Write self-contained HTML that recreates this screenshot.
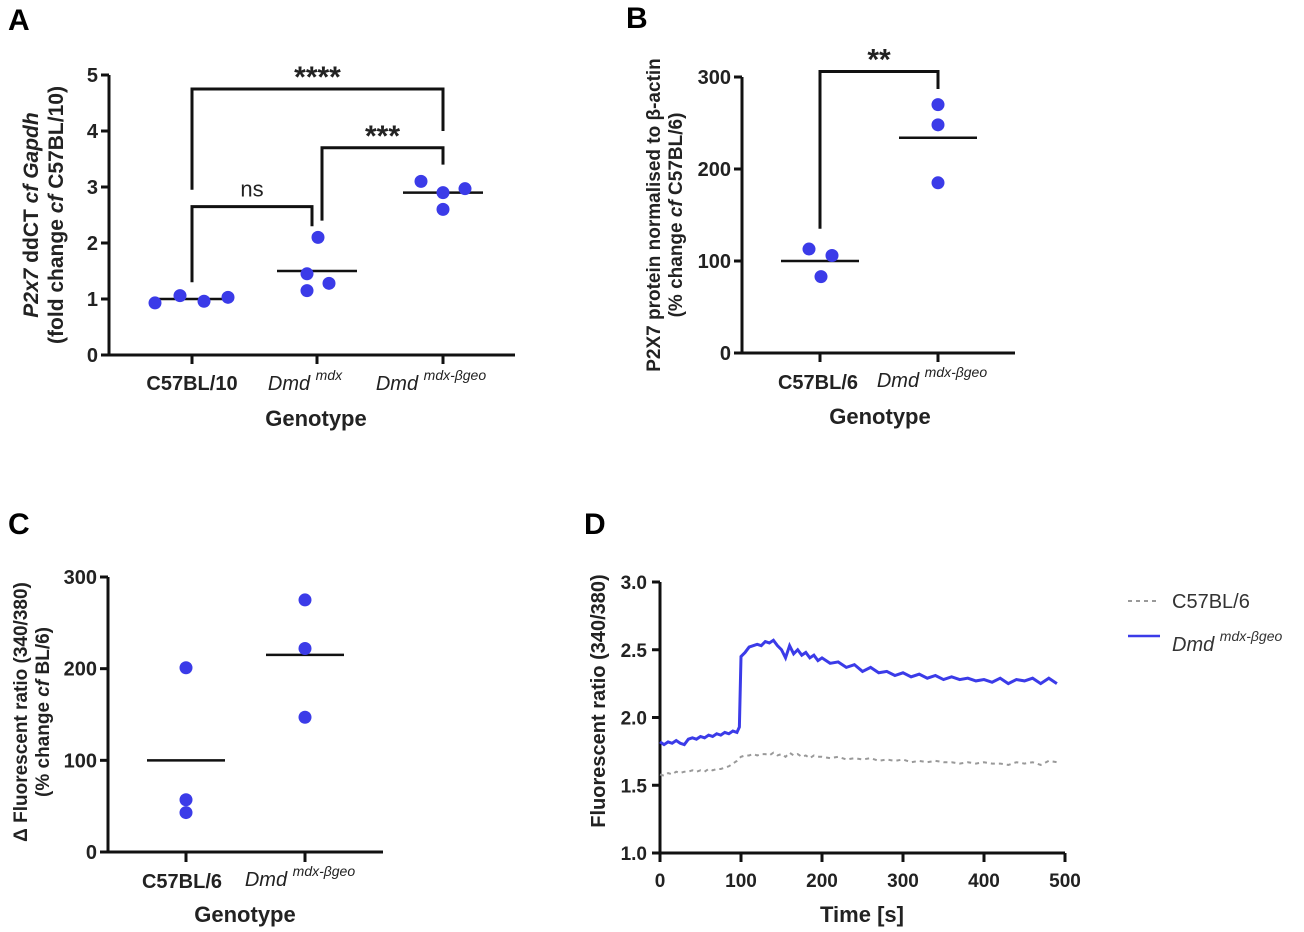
<!DOCTYPE html>
<html><head><meta charset="utf-8"><style>
html,body{margin:0;padding:0;background:#fff;width:1304px;height:932px;overflow:hidden}
svg{display:block;font-family:"Liberation Sans",Arial,sans-serif}
</style></head><body>
<svg id="fig" width="1304" height="932" viewBox="0 0 1304 932">
<g font-weight="bold" font-size="30">
<text x="8" y="30">A</text>
<text x="626" y="28">B</text>
<text x="8" y="534">C</text>
<text x="584" y="534">D</text>
</g>
</svg>
<script>
// Panel A data
const aCats=["C57BL/10","Dmd","Dmd"];
const aSups=["","mdx","mdx-βgeo"];
const aVals=[[0.93,1.06,0.96,1.03],[1.15,1.45,2.1,1.28],[3.1,2.6,2.9,2.97]];
const aMeans=[1.0,1.5,2.9];
const aTicks=[0,1,2,3,4,5];
// Panel B data
const bCats=["C57BL/6","Dmd"];
const bVals=[[113,83,106],[270,248,185]];
const bMeans=[100,234];
const bTicks=[0,100,200,300];
// Panel C data
const cCats=["C57BL/6","Dmd"];
const cVals=[[201,57,43],[275,222,147]];
const cMeans=[100,215];
const cTicks=[0,100,200,300];
// Panel D data
const dTime=[0,5,10,15,20,25,30,35,40,45,50,55,60,65,70,75,80,85,90,95,98,100,105,110,115,120,125,130,135,140,145,150,155,160,165,170,175,180,185,190,195,200,210,220,230,240,250,260,270,280,290,300,310,320,330,340,350,360,370,380,390,400,410,420,430,440,450,460,470,480,490];
const dBlue=[1.82,1.80,1.82,1.81,1.83,1.81,1.80,1.84,1.85,1.84,1.86,1.85,1.87,1.86,1.88,1.87,1.89,1.88,1.90,1.89,1.93,2.45,2.48,2.52,2.53,2.54,2.53,2.56,2.55,2.57,2.53,2.50,2.44,2.53,2.47,2.50,2.46,2.48,2.44,2.46,2.42,2.44,2.40,2.41,2.37,2.39,2.34,2.37,2.33,2.34,2.31,2.33,2.30,2.32,2.29,2.31,2.28,2.30,2.28,2.29,2.27,2.28,2.26,2.29,2.25,2.28,2.27,2.29,2.25,2.29,2.25];
const dGrey=[1.58,1.57,1.59,1.58,1.60,1.59,1.60,1.60,1.61,1.60,1.61,1.60,1.62,1.61,1.62,1.62,1.63,1.64,1.66,1.68,1.70,1.71,1.72,1.72,1.73,1.72,1.73,1.73,1.72,1.74,1.72,1.73,1.71,1.74,1.72,1.73,1.71,1.72,1.70,1.72,1.71,1.71,1.70,1.71,1.69,1.70,1.69,1.70,1.68,1.69,1.68,1.69,1.67,1.68,1.67,1.68,1.67,1.67,1.66,1.67,1.66,1.67,1.66,1.66,1.65,1.67,1.66,1.67,1.65,1.68,1.67];
const dXTicks=[0,100,200,300,400,500];
const dYTicks=[1.0,1.5,2.0,2.5,3.0];

const NS="http://www.w3.org/2000/svg";
const svg=document.getElementById('fig');
function mk(tag,attrs,parent,text){const e=document.createElementNS(NS,tag);for(const k in attrs)e.setAttribute(k,attrs[k]);if(text!==undefined)e.textContent=text;(parent||svg).appendChild(e);return e;}
function lin(d0,d1,r0,r1){return v=>r0+(v-d0)*(r1-r0)/(d1-d0);}
const BLUE="#3b3be8";

function axes(g,x0,xEnd,y,ticks,fmt,yTop,name){
  let l=mk('line',{x1:x0,y1:y(ticks[0]),x2:x0,y2:y(ticks[ticks.length-1]),stroke:'#111','stroke-width':3},g);
  
  l=mk('line',{x1:x0-1,y1:y(ticks[0]),x2:xEnd,y2:y(ticks[0]),stroke:'#111','stroke-width':3},g);
  
  ticks.forEach(t=>{
    mk('line',{x1:x0-8,y1:y(t),x2:x0,y2:y(t),stroke:'#111','stroke-width':3},g);
    const tx=mk('text',{x:x0-11,y:y(t)+7,'text-anchor':'end','font-size':20,'font-weight':'bold',fill:'#222'},g,fmt(t));
    
    
  });
}
function catLabel(g,x,y,cat,sup,name){
  const t=mk('text',{x:x,y:y,'text-anchor':'middle','font-size':20,fill:'#222'},g);
  
  
  if(sup){mk('tspan',{'font-style':'italic'},t,cat+' ');mk('tspan',{'font-style':'italic','font-size':14,dy:-10},t,sup);}
  else{t.setAttribute('font-weight','bold');t.textContent=cat;}
}
function scatter(g,xs,vals,means,y,half,name,offs){
  vals.forEach((arr,i)=>{
    const m=mk('line',{x1:xs[i]-half,y1:y(means[i]),x2:xs[i]+half,y2:y(means[i]),stroke:'#111','stroke-width':2.5},g);
    
    arr.forEach((v,j)=>{
      const c=mk('circle',{cx:xs[i]+offs[i][j],cy:y(v),r:6.5,fill:BLUE},g);
      
    });
  });
}
function bracket(g,xl,xr,yb,yl,yr,label,name){
  const p=mk('polyline',{points:`${xl},${yl} ${xl},${yb} ${xr},${yb} ${xr},${yr}`,fill:'none',stroke:'#111','stroke-width':3},g);
  
  const t=mk('text',{x:(xl+xr)/2,y:yb-(label==='ns'?10:2),'text-anchor':'middle','font-size':label==='ns'?22:30,'font-weight':label==='ns'?'normal':'bold',fill:'#222'},g,label);
  
}
function ytitle(g,x,y,lines,name,fs,gap){
  const t=mk('text',{transform:`translate(${x},${y}) rotate(-90)`,'text-anchor':'middle','font-size':fs,'font-weight':'bold',fill:'#222'},g);
  
  lines.forEach((ln,i)=>{const s=mk('tspan',{x:0,dy:i?gap:0},t);ln.forEach(p=>mk('tspan',p[1]?{'font-style':'italic'}:{},s,p[0]));});
}
function xtitle(g,x,y,txt,name){const t=mk('text',{x:x,y:y,'text-anchor':'middle','font-size':22,'font-weight':'bold',fill:'#222'},g,txt);}

// Panel A
{const g=mk('g',{});
 const y=lin(0,5,355,75);const xs=[192,317,443];
 axes(g,109,515,y,aTicks,t=>t,75,'a');
 xs.forEach(x=>mk('line',{x1:x,y1:355,x2:x,y2:364,stroke:'#111','stroke-width':3},g));
 aCats.forEach((c,i)=>catLabel(g,xs[i]-(aSups[i]?12:0),390,c,aSups[i],'a'));
 scatter(g,xs,aVals,aMeans,y,40,'a',[[-37,-12,12,36],[-10,-10,1,12],[-22,0,0,22]]);
 bracket(g,192,312,y(2.65),y(1.3),y(2.3),'ns','a-bracket-ns');
 bracket(g,322,443,y(3.7),y(2.4),y(3.4),'***','a-bracket-3star');
 bracket(g,192,443,y(4.75),y(2.95),y(4.0),'****','a-bracket-4star');
 ytitle(g,38,215,[[['P2x7',1],[' ddCT ',0],['cf',1],[' ',0],['Gapdh',1]],[['(fold change ',0],['cf',1],[' C57BL/10)',0]]],'a-y-axis-title',21,25);
 xtitle(g,316,426,'Genotype','a-x-axis-title');}
// Panel B
{const g=mk('g',{});
 const y=lin(0,300,353,77);const xs=[820,938];
 axes(g,742,1015,y,bTicks,t=>t,77,'b');
 xs.forEach(x=>mk('line',{x1:x,y1:353,x2:x,y2:362,stroke:'#111','stroke-width':3},g));
 catLabel(g,818,389,bCats[0],'','b');catLabel(g,932,387,bCats[1],'mdx-βgeo','b');
 scatter(g,xs,bVals,bMeans,y,39,'b',[[-11,1,12],[0,0,0]]);
 bracket(g,820,938,y(306),y(100+35),y(287),'**','b-bracket-2star');
 ytitle(g,660,215,[[['P2X7 protein normalised to β-actin',0]],[['(% change ',0],['cf',1],[' C57BL/6)',0]]],'b-y-axis-title',19,22);
 xtitle(g,880,424,'Genotype','b-x-axis-title');}
// Panel C
{const g=mk('g',{});
 const y=lin(0,300,852,577);const xs=[186,305];
 axes(g,108,383,y,cTicks,t=>t,577,'c');
 xs.forEach(x=>mk('line',{x1:x,y1:852,x2:x,y2:862,stroke:'#111','stroke-width':3},g));
 catLabel(g,182,888,cCats[0],'','c');catLabel(g,300,886,cCats[1],'mdx-βgeo','c');
 scatter(g,xs,cVals,cMeans,y,39,'c',[[0,0,0],[0,0,0]]);
 ytitle(g,27,712,[[['Δ Fluorescent ratio (340/380)',0]],[['(% change ',0],['cf',1],[' BL/6)',0]]],'c-y-axis-title',19,22);
 xtitle(g,245,922,'Genotype','c-x-axis-title');}
// Panel D
{const g=mk('g',{});
 const x=lin(0,500,660,1065),y=lin(1,3,853,582);
 let l=mk('line',{x1:660,y1:582,x2:660,y2:853,stroke:'#111','stroke-width':3},g);
 
 l=mk('line',{x1:659,y1:853,x2:1065,y2:853,stroke:'#111','stroke-width':3},g);
 
 dYTicks.forEach(t=>{mk('line',{x1:652,y1:y(t),x2:660,y2:y(t),stroke:'#111','stroke-width':3},g);
  const tx=mk('text',{x:647,y:y(t)+7,'text-anchor':'end','font-size':19,'font-weight':'bold',fill:'#222'},g,t.toFixed(1));
  });
 dXTicks.forEach(t=>{mk('line',{x1:x(t),y1:853,x2:x(t),y2:862,stroke:'#111','stroke-width':3},g);
  const tx=mk('text',{x:x(t),y:887,'text-anchor':'middle','font-size':19,'font-weight':'bold',fill:'#222'},g,t);
  });
 const gp=mk('polyline',{points:dTime.map((t,i)=>x(t)+','+y(dGrey[i])).join(' '),fill:'none',stroke:'#999','stroke-width':2,'stroke-dasharray':'4 4'},g);
 
 const bp=mk('polyline',{points:dTime.map((t,i)=>x(t)+','+y(dBlue[i])).join(' '),fill:'none',stroke:BLUE,'stroke-width':3},g);
 
 ytitle(g,605,701,[[['Fluorescent ratio (340/380)',0]]],'d-y-axis-title',20,0);
 xtitle(g,862,922,'Time [s]','d-x-axis-title');
 const lg=mk('g',{},g);
 mk('line',{x1:1128,y1:601,x2:1160,y2:601,stroke:'#999','stroke-width':2,'stroke-dasharray':'4 4'},lg);
 let t1=mk('text',{x:1172,y:608,'font-size':20,fill:'#333'},lg,'C57BL/6');
 
 mk('line',{x1:1128,y1:636,x2:1160,y2:636,stroke:BLUE,'stroke-width':2.5},lg);
 let t2=mk('text',{x:1172,y:651,'font-size':20,fill:'#333','font-style':'italic'},lg);
 mk('tspan',{},t2,'Dmd ');mk('tspan',{'font-size':14,dy:-10},t2,'mdx-βgeo');
 }
</script>
</body></html>
